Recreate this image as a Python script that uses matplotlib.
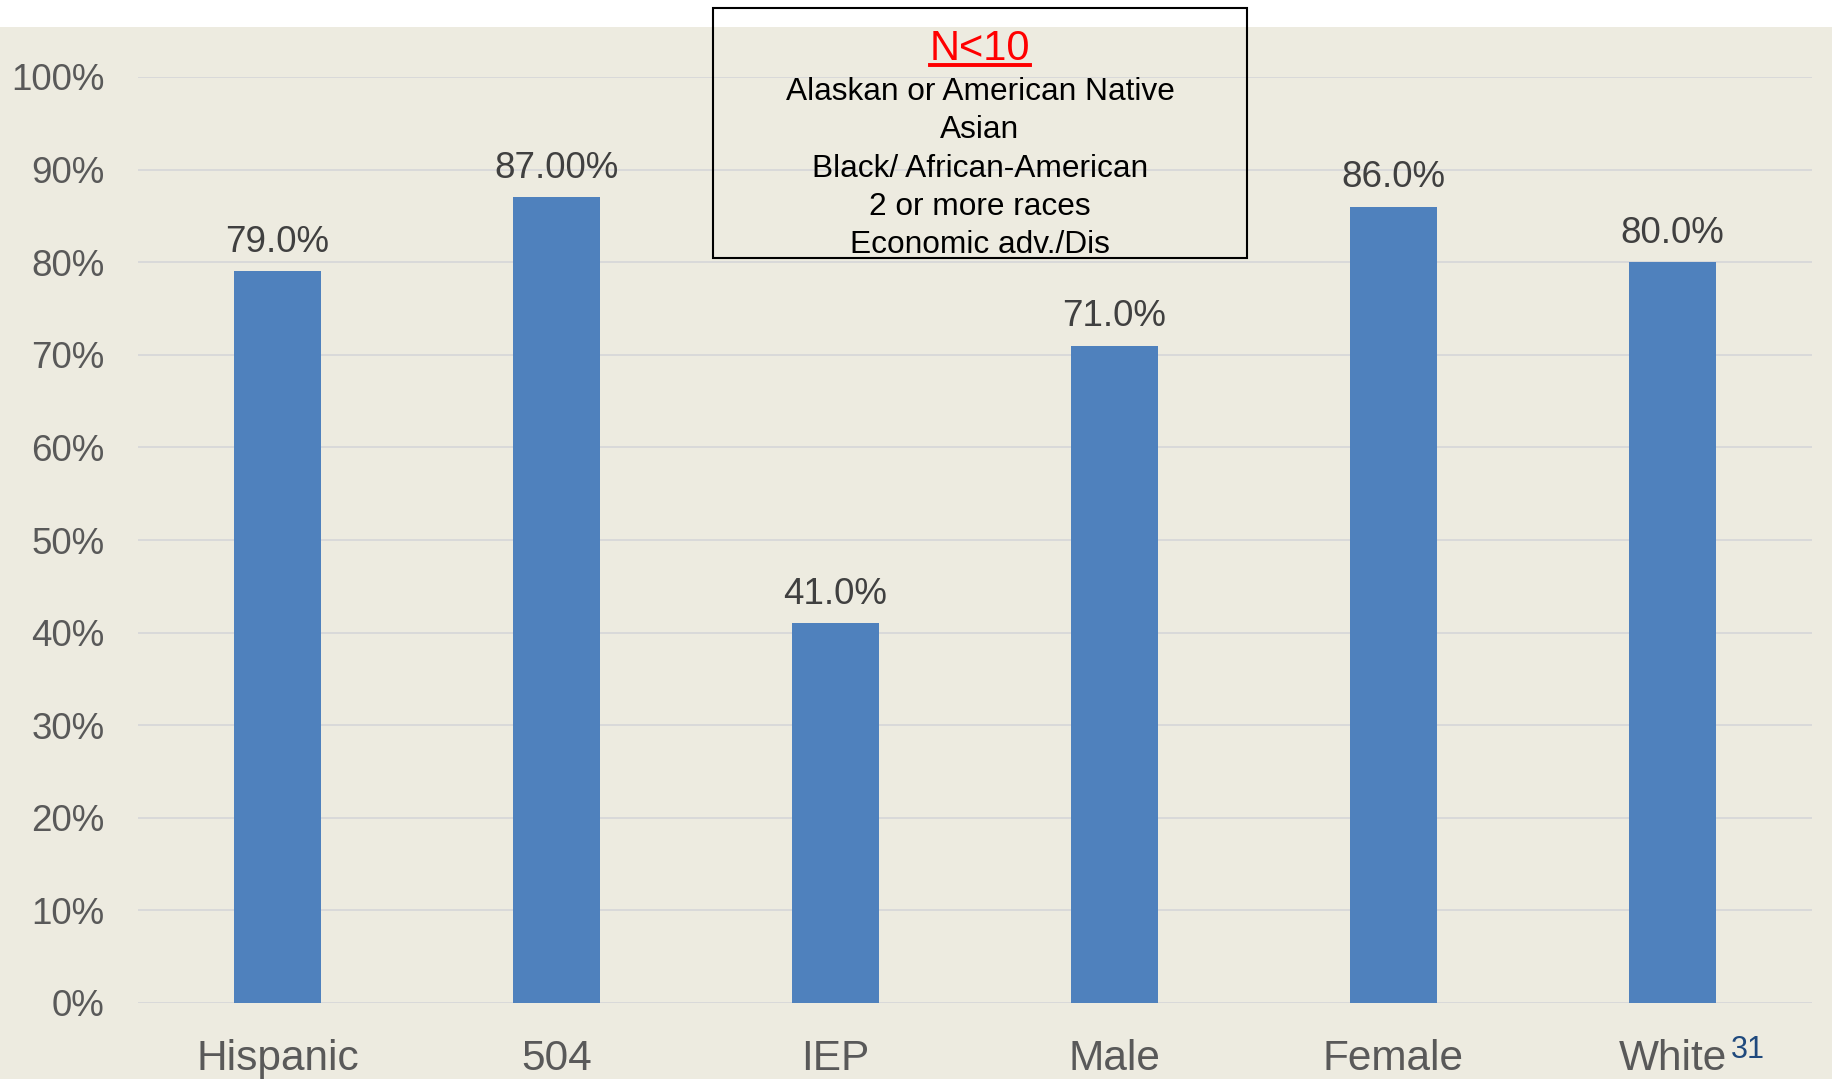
import matplotlib
matplotlib.use("Agg")
import matplotlib.pyplot as plt
from matplotlib.patches import Rectangle
from matplotlib.lines import Line2D
from matplotlib.ticker import MultipleLocator, FuncFormatter

plt.rcParams['font.family'] = ['Liberation Sans', 'DejaVu Sans']

categories = ["Hispanic", "504", "IEP", "Male", "Female", "White"]
values = [79.0, 87.00, 41.0, 71.0, 86.0, 80.0]
label_decimals = [1, 2, 1, 1, 1, 1]
note_title = "N<10"
note_lines = ["Alaskan or American Native", "Asian", "Black/ African-American",
              "2 or more races", "Economic adv./Dis"]
page_number = "31"

W, H = 1833, 1079
BG = "#EDEBE0"
BAR = "#4F81BD"
GRID = "#D9D9D9"

fig = plt.figure(figsize=(W / 100, H / 100), dpi=100)
fig.patch.set_facecolor("white")
# beige slide band below the thin white strip at the top
fig.patches.append(Rectangle((0, 0), 1, (H - 27) / H, transform=fig.transFigure,
                             facecolor=BG, edgecolor="none", zorder=-1))

def fx(px):
    return px / W

def fy(py):
    return 1 - py / H

ax = fig.add_axes([fx(138), fy(1003), fx(1812) - fx(138), fy(77) - fy(1003)])
ax.set_zorder(1)
ax.set_facecolor("none")
x = range(len(categories))
ax.bar(x, values, width=0.315, color=BAR, zorder=3)
ax.set_xlim(-0.5, len(categories) - 0.5)
ax.set_ylim(0, 100)
ax.yaxis.set_major_locator(MultipleLocator(10))
ax.yaxis.set_major_formatter(FuncFormatter(lambda v, p: f"{v:.0f}%"))
ax.grid(axis="y", color=GRID, linewidth=1.4, zorder=0)
ax.set_axisbelow(True)
for s in ax.spines.values():
    s.set_visible(False)
ax.tick_params(axis="both", length=0, colors="#595959")
ax.tick_params(axis="y", labelsize=26.5, pad=24)
ax.tick_params(axis="x", labelsize=30.5, pad=26)
ax.set_xticks(list(x))
ax.set_xticklabels(categories)

for xi, v, d in zip(x, values, label_decimals):
    ax.annotate(f"{v:.{d}f}%", (xi, v), xytext=(0, 14), textcoords="offset points",
                ha="center", va="baseline", fontsize=26.5, color="#404040", zorder=4)

# note box with the groups that are too small to report
fig.patches.append(Rectangle((fx(713), fy(258)), fx(1247) - fx(713), fy(8) - fy(258),
                             transform=fig.transFigure, facecolor="none",
                             edgecolor="black", linewidth=1.5, zorder=5))
cx = fx(980)
t = fig.text(cx, fy(60), note_title, ha="center", va="baseline", fontsize=30,
             color="#FF0000", zorder=6)
baselines = [100, 138, 177, 215, 253]
for line, b in zip(note_lines, baselines):
    fig.text(cx, fy(b), line, ha="center", va="baseline", fontsize=22.8,
             color="black", zorder=6)

fig.canvas.draw()
bb = t.get_window_extent()
fig.lines.append(Line2D([bb.x0 / W, bb.x1 / W], [fy(65), fy(65)],
                        transform=fig.transFigure, color="#FF0000", linewidth=2.8,
                        zorder=6))

fig.text(fx(1731), fy(1058), page_number, ha="left", va="baseline", fontsize=22,
         color="#1F497D", zorder=6)

fig.savefig("out.png", dpi=100, facecolor=fig.get_facecolor())
